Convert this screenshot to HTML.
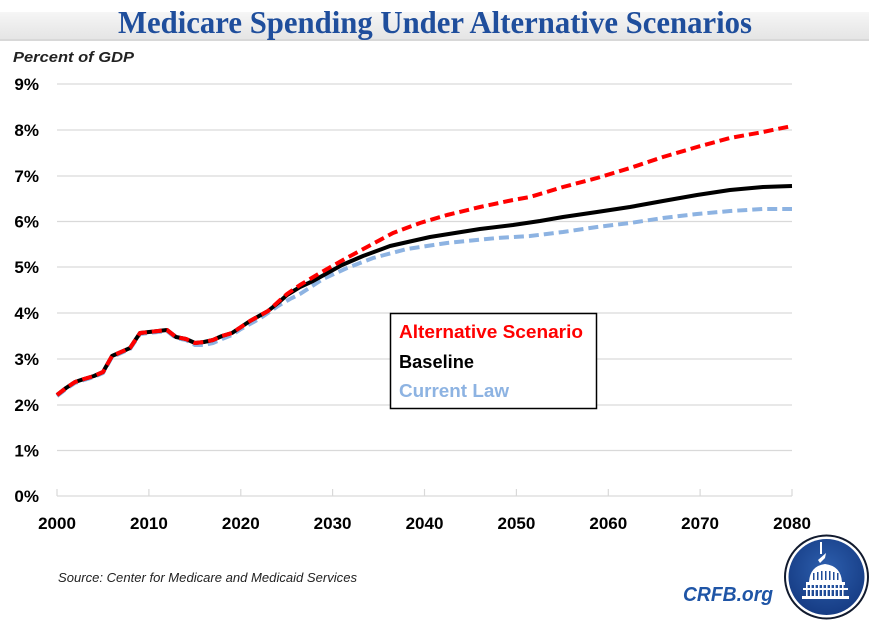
<!DOCTYPE html>
<html><head><meta charset="utf-8"><style>
html,body{margin:0;padding:0;background:#fff;}
svg{display:block;}
</style></head><body>
<svg width="869" height="621" viewBox="0 0 869 621" xmlns="http://www.w3.org/2000/svg">
<defs>
<linearGradient id="hb" x1="0" y1="0" x2="0" y2="1">
<stop offset="0" stop-color="#f6f6f6"/><stop offset="1" stop-color="#e4e4e4"/>
</linearGradient>
<radialGradient id="lg" cx="0.5" cy="0.4" r="0.6">
<stop offset="0" stop-color="#2d5fae"/><stop offset="1" stop-color="#163c84"/>
</radialGradient>
</defs>
<rect x="0" y="0" width="869" height="621" fill="#fff"/>
<rect x="0" y="12" width="869" height="28" fill="url(#hb)"/>
<rect x="0" y="39" width="869" height="2" fill="#d8d8d8"/>
<text x="118" y="33" font-family="Liberation Serif, serif" font-weight="bold" font-size="32" fill="#1f4e9c" textLength="634" lengthAdjust="spacingAndGlyphs">Medicare Spending Under Alternative Scenarios</text>
<text x="13" y="62" font-family="Liberation Sans, sans-serif" font-weight="bold" font-style="italic" font-size="15" fill="#222" textLength="121" lengthAdjust="spacingAndGlyphs">Percent of GDP</text>
<g stroke="#d9d9d9" stroke-width="1.2">
<line x1="57" y1="84" x2="792" y2="84"/>
<line x1="57" y1="130" x2="792" y2="130"/>
<line x1="57" y1="176" x2="792" y2="176"/>
<line x1="57" y1="221.5" x2="792" y2="221.5"/>
<line x1="57" y1="267" x2="792" y2="267"/>
<line x1="57" y1="313" x2="792" y2="313"/>
<line x1="57" y1="359" x2="792" y2="359"/>
<line x1="57" y1="405" x2="792" y2="405"/>
<line x1="57" y1="450.5" x2="792" y2="450.5"/>
<line x1="57" y1="496" x2="792" y2="496"/>
<line x1="57" y1="489" x2="57" y2="496"/>
<line x1="148.9" y1="489" x2="148.9" y2="496"/>
<line x1="240.8" y1="489" x2="240.8" y2="496"/>
<line x1="332.6" y1="489" x2="332.6" y2="496"/>
<line x1="424.5" y1="489" x2="424.5" y2="496"/>
<line x1="516.4" y1="489" x2="516.4" y2="496"/>
<line x1="608.3" y1="489" x2="608.3" y2="496"/>
<line x1="700.1" y1="489" x2="700.1" y2="496"/>
<line x1="792" y1="489" x2="792" y2="496"/>
</g>
<g font-family="Liberation Sans, sans-serif" font-weight="bold" font-size="17" fill="#000" text-anchor="end">
<text x="39" y="90">9%</text>
<text x="39" y="136">8%</text>
<text x="39" y="182">7%</text>
<text x="39" y="227.5">6%</text>
<text x="39" y="273">5%</text>
<text x="39" y="319">4%</text>
<text x="39" y="365">3%</text>
<text x="39" y="411">2%</text>
<text x="39" y="456.5">1%</text>
<text x="39" y="502">0%</text>
</g>
<g font-family="Liberation Sans, sans-serif" font-weight="bold" font-size="17" fill="#000" text-anchor="middle">
<text x="57" y="529">2000</text>
<text x="148.9" y="529">2010</text>
<text x="240.8" y="529">2020</text>
<text x="332.6" y="529">2030</text>
<text x="424.5" y="529">2040</text>
<text x="516.4" y="529">2050</text>
<text x="608.3" y="529">2060</text>
<text x="700.1" y="529">2070</text>
<text x="792" y="529">2080</text>
</g>
<!-- Current Law (blue) -->
<polyline fill="none" stroke="#8db3e2" stroke-width="4" stroke-dasharray="10,5" stroke-linejoin="round" points="57,396 66,389 75,383 84,380 94,377 103,373 112,357 121,353 130,349 140,334 149,333 158,332 167,331 176,338 186,340 195,345 204,345 213,343 222,339 232,335 241,329 250,324 259,319 268,313 278,306 290,299 300,294 323,279 347,268 373,258 407,249 447,243 497,238 530,236 563,232 597,227 630,223 663,218 697,214 730,211 763,209 792,209"/>
<!-- Baseline (black) -->
<polyline fill="none" stroke="#000" stroke-width="4" stroke-linejoin="round" points="57,395 66,388 75,382 84,379 94,376 103,372 112,356 121,352 130,348 140,333 149,332 158,331 167,330 176,337 186,339 195,343 204,342 213,340 222,336 232,333 241,327 250,321 259,316 268,311 278,303 287,295 300,287 313,281 342,265 363,256 390,246 430,237 480,229 513,225 540,221 563,217 597,212 630,207 663,201 697,195 730,190 763,187 792,186"/>
<!-- Alternative (red) -->
<polyline fill="none" stroke="#ff0000" stroke-width="4" stroke-dasharray="10,5" stroke-linejoin="round" points="57,395 66,388 75,382 84,379 94,376 103,372 112,356 121,352 130,348 140,333 149,332 158,331 167,330 176,337 186,339 195,343 204,342 213,340 222,336 232,333 241,327 250,321 259,316 268,311 278,302 287,294 300,285 320,273 343,260 367,247 393,233 420,223 447,215 480,207 513,200 530,197 563,187 597,178 630,168 663,157 697,147 730,138 763,132 792,126"/>
<!-- Legend -->
<rect x="390.5" y="313.5" width="206" height="95" fill="#fff" stroke="#000" stroke-width="1.5"/>
<g font-family="Liberation Sans, sans-serif" font-weight="bold" font-size="18">
<text x="399" y="338" fill="#ff0000" textLength="184" lengthAdjust="spacingAndGlyphs">Alternative Scenario</text>
<text x="399" y="368" fill="#000" textLength="75" lengthAdjust="spacingAndGlyphs">Baseline</text>
<text x="399" y="397" fill="#8db3e2" textLength="110" lengthAdjust="spacingAndGlyphs">Current Law</text>
</g>
<text x="58" y="582" font-family="Liberation Sans, sans-serif" font-style="italic" font-size="12.5" fill="#222" textLength="299" lengthAdjust="spacingAndGlyphs">Source: Center for Medicare and Medicaid Services</text>
<text x="683" y="601" font-family="Liberation Sans, sans-serif" font-weight="bold" font-style="italic" font-size="20" fill="#1f55a6" textLength="90" lengthAdjust="spacingAndGlyphs">CRFB.org</text>
<!-- Logo -->
<circle cx="826.5" cy="577" r="42.5" fill="#111a2e"/>
<circle cx="826.5" cy="577" r="40.5" fill="#fff"/>
<circle cx="826.5" cy="577" r="38" fill="url(#lg)"/>
<g fill="#fff" stroke="none">
<rect x="820" y="542" width="2" height="12"/>
<polygon points="818,560 826,553 825,558 820,563"/>
<path d="M809,582 Q810,566 825,564 Q841,566 842,582 Z"/>
<rect x="806" y="582" width="39" height="3"/>
<rect x="803" y="588" width="45" height="2"/>
<g fill="#fff">
<rect x="806" y="585" width="1.6" height="11"/><rect x="810" y="585" width="1.6" height="11"/>
<rect x="814" y="585" width="1.6" height="11"/><rect x="818" y="585" width="1.6" height="11"/>
<rect x="822" y="585" width="1.6" height="11"/><rect x="826" y="585" width="1.6" height="11"/>
<rect x="830" y="585" width="1.6" height="11"/><rect x="834" y="585" width="1.6" height="11"/>
<rect x="838" y="585" width="1.6" height="11"/><rect x="842" y="585" width="1.6" height="11"/>
</g>
<rect x="802" y="596" width="47" height="3"/>
</g>
<g fill="#1f4c98">
<rect x="813" y="573" width="1.5" height="7"/><rect x="817" y="572" width="1.5" height="8"/>
<rect x="821" y="571" width="1.5" height="9"/><rect x="825" y="571" width="1.5" height="9"/>
<rect x="829" y="571" width="1.5" height="9"/><rect x="833" y="572" width="1.5" height="8"/>
<rect x="837" y="573" width="1.5" height="7"/>
</g>
</svg>
</body></html>
